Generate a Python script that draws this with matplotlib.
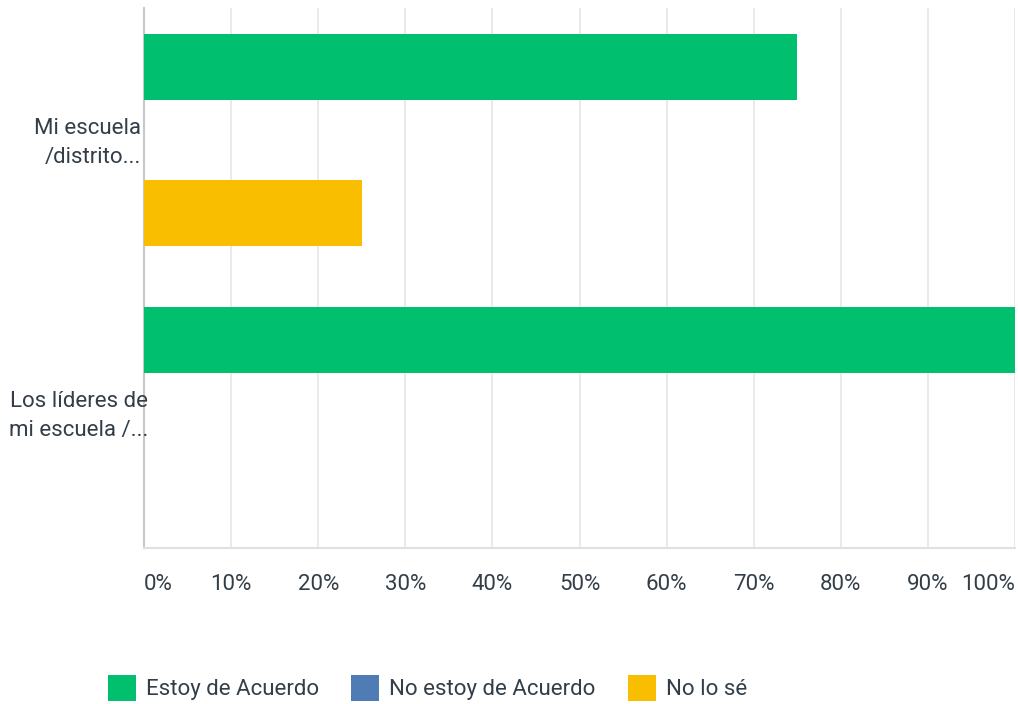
import matplotlib
matplotlib.use("Agg")
import matplotlib.pyplot as plt
from matplotlib.patches import Patch
from matplotlib.transforms import blended_transform_factory

plt.rcParams['font.family'] = ['Roboto', 'DejaVu Sans']

categories = ["Mi escuela\n/distrito...", "Los líderes de\nmi escuela /..."]
series = ["Estoy de Acuerdo", "No estoy de Acuerdo", "No lo sé"]
colors = ["#00bf6f", "#507cb6", "#f9be00"]
values = [
    [75, 100],   # Estoy de Acuerdo
    [0, 0],      # No estoy de Acuerdo
    [25, 0],     # No lo sé
]
ticks = [0, 10, 20, 30, 40, 50, 60, 70, 80, 90, 100]

text_col = "#333e48"
fs = 16

fig = plt.figure(figsize=(10.18, 7.04), dpi=100)
ax = fig.add_axes([144 / 1018, 1 - 548 / 704, (1015 - 144) / 1018, 540 / 704])

offsets = [-0.267, 0.0, 0.267]
bar_h = 0.242
for s in range(len(series)):
    ys = [i + offsets[s] for i in range(len(categories))]
    ax.barh(ys, values[s], height=bar_h, color=colors[s], zorder=3)

ax.set_xlim(0, 100)
ax.set_ylim(1.4945, -0.4835)

ax.set_xticks(ticks)
ax.set_xticklabels([])
ax.tick_params(axis='both', length=0)
ax.set_yticks([])
ax.grid(axis='x', color='#e6e6e6', linewidth=1.2, zorder=0)
for side in ['top', 'right']:
    ax.spines[side].set_visible(False)
ax.spines['left'].set_color('#c8c8c8')
ax.spines['left'].set_linewidth(1.5)
ax.spines['bottom'].set_color('#e0e0e0')
ax.spines['bottom'].set_linewidth(1.5)

# tick labels below axis
tr = blended_transform_factory(ax.transData, ax.transAxes)
for t in ticks:
    ha = 'center'
    if t == 0:
        ha = 'left'
    elif t == 100:
        ha = 'right'
    ax.text(t, -0.068, f"{t}%", transform=tr, ha=ha, va='center',
            fontsize=fs, color=text_col)

# category labels
for i, lab in enumerate(categories):
    xr = 0.35 if i == 0 else -0.45
    ax.text(-xr, i + 0.01, lab, ha='right', va='center', fontsize=fs,
            color=text_col, linespacing=1.5, multialignment='right')

handles = [Patch(facecolor=c, edgecolor='none') for c in colors]
leg = fig.legend(handles, series, loc='center', bbox_to_anchor=(0.42, 1 - 688 / 704),
                 ncol=3, frameon=False, fontsize=fs, handlelength=1.26,
                 handleheight=1.4, handletextpad=0.45, columnspacing=1.45)
for t in leg.get_texts():
    t.set_color(text_col)

fig.savefig("out.png", dpi=100)
